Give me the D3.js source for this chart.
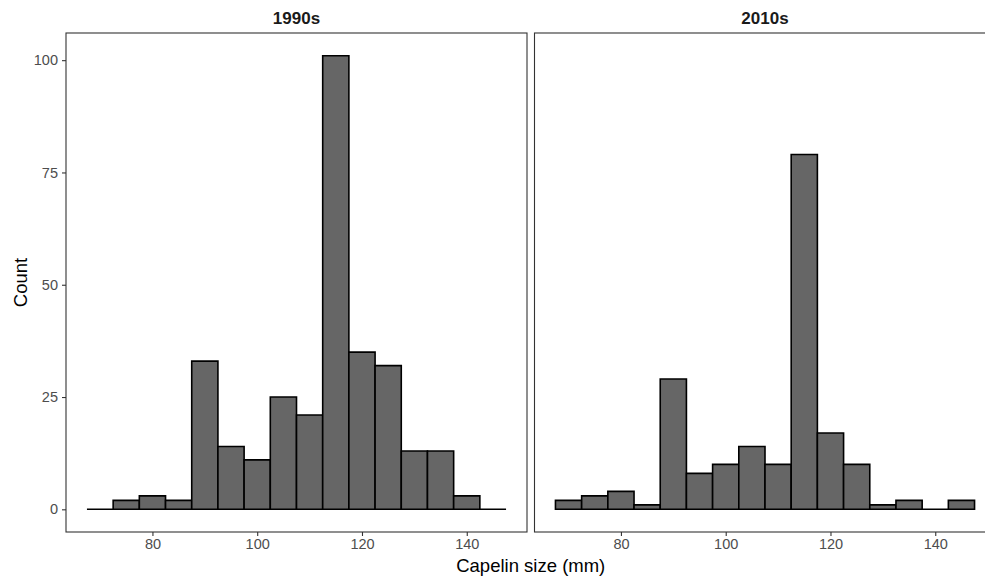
<!DOCTYPE html>
<html>
<head>
<meta charset="utf-8">
<script src="https://cdn.jsdelivr.net/npm/d3@7"></script>
<style>
  body { margin: 0; background: #fff; }
  svg { display: block; font-family: "Liberation Sans", Arial, sans-serif; }
</style>
</head>
<body>
<div id="chart"></div>
<script>
// bin centres (mm), bin width 5
const binCentres = [70, 75, 80, 85, 90, 95, 100, 105, 110, 115, 120, 125, 130, 135, 140, 145];
const counts1990s = [0, 2, 3, 2, 33, 14, 11, 25, 21, 101, 35, 32, 13, 13, 3, 0];
const counts2010s = [2, 3, 4, 1, 29, 8, 10, 14, 10, 79, 17, 10, 1, 2, 0, 2];
const panelTitles = ['1990s', '2010s'];
const xTicks = [80, 100, 120, 140];
const yTicks = [0, 25, 50, 75, 100];
const binWidth = 5;

const width = 985, height = 578;
const panelTop = 33, panelBottom = 532;
const panelW = 461;
const panelX = [66, 534.5];
const panelH = panelBottom - panelTop;

const svg = d3.select('#chart').append('svg')
  .attr('width', width)
  .attr('height', height);

const x = d3.scaleLinear().domain([63.5, 151.5]).range([0, panelW]);
const y = d3.scaleLinear().domain([-5.05, 106.05]).range([panelH, 0]);

const series = [counts1990s, counts2010s];

series.forEach((counts, p) => {
  const g = svg.append('g').attr('transform', `translate(${panelX[p]},${panelTop})`);

  const data = binCentres.map((c, i) => ({ x0: c - binWidth / 2, x1: c + binWidth / 2, n: counts[i] }));

  // paths so that empty bins still show their outline at zero
  g.selectAll('path.bar')
    .data(data)
    .enter().append('path')
    .attr('class', 'bar')
    .attr('d', d => {
      const x0 = x(d.x0), x1 = x(d.x1), y0 = y(0), y1 = y(d.n);
      return `M${x0},${y0}V${y1}H${x1}V${y0}Z`;
    })
    .attr('fill', '#666666')
    .attr('stroke', '#000')
    .attr('stroke-width', 1.6);

  // panel border
  g.append('rect')
    .attr('x', 0).attr('y', 0)
    .attr('width', panelW).attr('height', panelH)
    .attr('fill', 'none')
    .attr('stroke', '#333')
    .attr('stroke-width', 1.1);

  // x axis
  const xa = g.append('g')
    .attr('transform', `translate(0,${panelH})`)
    .call(d3.axisBottom(x).tickValues(xTicks).tickSize(4).tickPadding(3));
  xa.select('.domain').remove();
  xa.selectAll('line').attr('stroke', '#333').attr('stroke-width', 1.1);
  xa.selectAll('text').attr('fill', '#4d4d4d').style('font-size', '14.5px')
    .style('font-family', '"Liberation Sans", Arial, sans-serif');

  if (p === 0) {
    const ya = g.append('g')
      .call(d3.axisLeft(y).tickValues(yTicks).tickSize(4).tickPadding(4));
    ya.select('.domain').remove();
    ya.selectAll('line').attr('stroke', '#333').attr('stroke-width', 1.1);
    ya.selectAll('text').attr('fill', '#4d4d4d').style('font-size', '14.5px')
      .style('font-family', '"Liberation Sans", Arial, sans-serif');
  }

  // facet title
  svg.append('text')
    .attr('x', panelX[p] + panelW / 2)
    .attr('y', 24)
    .attr('text-anchor', 'middle')
    .style('font-size', '17px')
    .style('font-weight', 'bold')
    .attr('fill', '#1a1a1a')
    .text(panelTitles[p]);
});

// axis titles
svg.append('text')
  .attr('x', (panelX[0] + panelX[1] + panelW) / 2)
  .attr('y', 572)
  .attr('text-anchor', 'middle')
  .style('font-size', '18.5px')
  .attr('fill', '#000')
  .text('Capelin size (mm)');

svg.append('text')
  .attr('transform', `translate(27,${(panelTop + panelBottom) / 2}) rotate(-90)`)
  .attr('text-anchor', 'middle')
  .style('font-size', '18.5px')
  .attr('fill', '#000')
  .text('Count');
</script>
</body>
</html>
